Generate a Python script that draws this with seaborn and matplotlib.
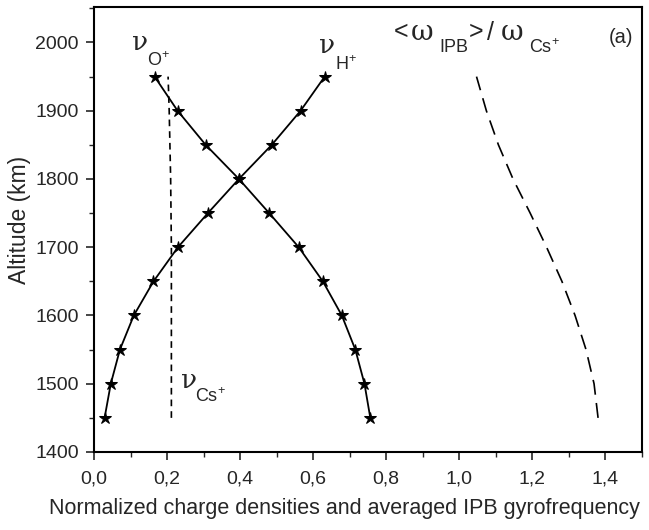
import numpy as np
import pandas as pd
import matplotlib
matplotlib.use('Agg')
import matplotlib.pyplot as plt
import seaborn as sns
from matplotlib.ticker import MultipleLocator, FuncFormatter

# Altitude grid (km)
altitude = [1450, 1500, 1550, 1600, 1650, 1700, 1750, 1800, 1850, 1900, 1950]

# normalized densities
nu_O = [0.757, 0.741, 0.716, 0.679, 0.627, 0.561, 0.480, 0.397, 0.306, 0.229, 0.166]
nu_H = [0.029, 0.046, 0.071, 0.109, 0.163, 0.230, 0.312, 0.397, 0.487, 0.566, 0.632]
nu_Cs = [0.212, 0.212, 0.212, 0.212, 0.212, 0.212, 0.211, 0.210, 0.208, 0.206, 0.203]
# averaged IPB gyrofrequency / Cs+ gyrofrequency
omega_ratio = [1.381, 1.370, 1.348, 1.318, 1.282, 1.240, 1.195, 1.148, 1.108, 1.075, 1.048]

df = pd.DataFrame({'alt': altitude, 'O': nu_O, 'H': nu_H, 'Cs': nu_Cs, 'w': omega_ratio})

sns.set_style('ticks')
plt.rcParams['font.family'] = ['Liberation Sans', 'DejaVu Sans']
plt.rcParams['mathtext.fontset'] = 'custom'
plt.rcParams['mathtext.rm'] = 'Liberation Sans'
plt.rcParams['mathtext.it'] = 'Liberation Sans:italic'

W, H = 649, 530
fig = plt.figure(figsize=(W / 100, H / 100), dpi=100)
ax = fig.add_axes([94 / W, 1 - 452 / H, (641.5 - 94) / W, (452 - 7) / H])

# O+ and H+ with star markers
for col in ['O', 'H']:
    sns.lineplot(data=df, x=col, y='alt', sort=False, estimator=None, ax=ax,
                 color='black', linewidth=1.3, marker='*', markersize=9,
                 markeredgecolor='black', markerfacecolor='black')

# Cs+ short dashes
sns.lineplot(data=df, x='Cs', y='alt', sort=False, estimator=None, ax=ax,
             color='black', linewidth=1.2)
ax.lines[-1].set_dashes([4, 3])

# IPB gyrofrequency long dashes
sns.lineplot(data=df, x='w', y='alt', sort=False, estimator=None, ax=ax,
             color='black', linewidth=1.2)
ax.lines[-1].set_dashes([9, 5])

ax.set_xlim(0, 1.5)
ax.set_ylim(1400, 2052)
ax.xaxis.set_major_locator(MultipleLocator(0.2))
ax.xaxis.set_minor_locator(MultipleLocator(0.1))
ax.yaxis.set_major_locator(MultipleLocator(100))
ax.yaxis.set_minor_locator(MultipleLocator(50))
ax.xaxis.set_major_formatter(FuncFormatter(lambda v, p: f'{v:.1f}'.replace('.', ',')))
ax.tick_params(which='major', length=6, width=1.2, labelsize=14, direction='out')
ax.tick_params(axis='y', which='major', pad=5)
ax.tick_params(axis='x', which='major', pad=7)
ax.tick_params(which='minor', length=3.5, width=1.0, direction='out')
for s in ax.spines.values():
    s.set_linewidth(1.5)
    s.set_color('black')

ax.set_xlabel('Normalized charge densities and averaged IPB gyrofrequency', fontsize=15.5)
ax.set_ylabel('Altitude (km)', fontsize=16.5)
# label positions (axes fractions)
ax.xaxis.set_label_coords(0.458, -0.104)
ax.yaxis.set_label_coords(-0.115, 0.522)


def ptext(px, py, s, size, family='Liberation Sans'):
    # place text by pixel position of its baseline start
    fig.text(px / W, 1 - py / H, s, fontsize=size, family=family,
             ha='left', va='baseline')


greek = 'DejaVu Serif'
# curve labels
ptext(132, 50, 'ν', 19, greek)
ptext(147, 66, 'O$^{+}$', 13)
ptext(319, 53, 'ν', 19, greek)
ptext(335, 70, 'H$^{+}$', 13)
ptext(181, 388, 'ν', 19, greek)
ptext(195, 402, 'Cs$^{+}$', 13)

ptext(394, 39, '<', 18)
ptext(411, 40, 'ω', 20, greek)
ptext(439, 52, 'IPB', 13)
ptext(469, 39, '>', 18)
ptext(487, 40, '/', 18)
ptext(501, 40, 'ω', 20, greek)
ptext(529, 53, 'Cs$^{+}$', 13)
ptext(609, 43, '(a)', 14.5)

fig.savefig('out.png', dpi=100)
